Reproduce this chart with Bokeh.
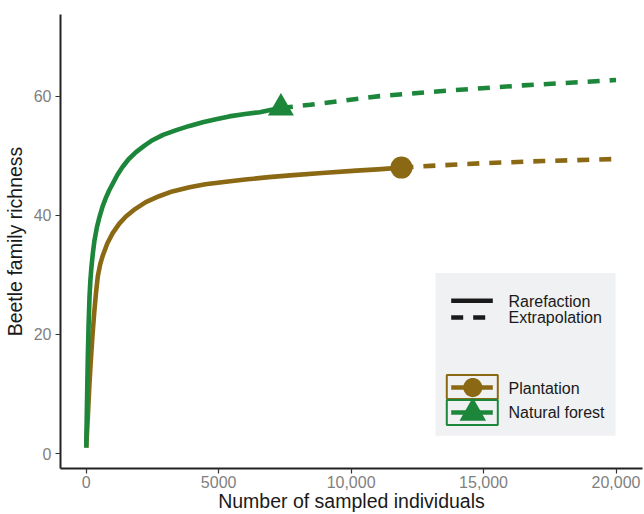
from bokeh.plotting import figure
from bokeh.models import Range1d, FixedTicker, BoxAnnotation, Label, PolyAnnotation
from bokeh.embed import file_html
from bokeh.resources import INLINE
import math

# ---------------- data ----------------
plant_rare_x = [1, 60, 120, 180, 240, 300, 370, 440, 530, 630, 800, 1000, 1250, 1500, 1800,
                2250, 2750, 3250, 3900, 4500, 5200, 6000, 6900, 7700, 8900, 10200, 11000, 11900]
plant_rare_y = [1, 6, 11.5, 16, 20, 23.5, 27, 29.8, 31.8, 33.3, 35.3, 37.0, 38.6, 39.8, 40.9,
                42.2, 43.2, 44.0, 44.7, 45.2, 45.6, 46.0, 46.4, 46.7, 47.1, 47.5, 47.7, 48.0]
plant_extra_x = [11900, 13000, 15000, 17250, 20000]
plant_extra_y = [48.0, 48.3, 48.75, 49.1, 49.45]

forest_rare_x = [1, 30, 60, 90, 125, 160, 200, 250, 310, 400, 500, 620, 750, 870, 1000, 1180,
                 1370, 1600, 1880, 2200, 2500, 2900, 3400, 3900, 4400, 4900, 5400, 6000, 6550,
                 7000, 7350]
forest_rare_y = [1, 8.5, 16, 21.5, 26.3, 29.2, 31.4, 33.6, 35.7, 37.9, 39.7, 41.5, 43.0, 44.2,
                 45.3, 46.8, 48.1, 49.4, 50.6, 51.7, 52.6, 53.5, 54.3, 55.0, 55.6, 56.1, 56.6,
                 57.0, 57.3, 57.7, 58.0]
forest_extra_x = [7350, 8450, 11080, 13720, 16490, 20000]
forest_extra_y = [58.0, 58.55, 60.0, 60.95, 61.8, 62.7]

plant_obs_x = [11900]
plant_obs_y = [48.0]
forest_obs_x = [7350]
forest_obs_y = [58.0]

x_ticks = [0, 5000, 10000, 15000, 20000]
x_tick_labels = ["0", "5000", "10,000", "15,000", "20,000"]
y_ticks = [0, 20, 40, 60]

series_names = ["Plantation", "Natural forest"]
method_names = ["Rarefaction", "Extrapolation"]

# ---------------- styles ----------------
BROWN = "#8B6914"
GREEN = "#1C863A"
FONT = "Liberation Sans"
LW = 4.6
DASH = "12 10"

p = figure(width=644, height=514,
           x_range=Range1d(-970, 21000), y_range=Range1d(-2.5, 73.7),
           output_backend="svg", toolbar_location=None,
           min_border_left=0, min_border_right=2, min_border_top=14, min_border_bottom=0)

p.background_fill_color = "white"
p.border_fill_color = "white"
p.outline_line_color = None
p.xgrid.visible = False
p.ygrid.visible = False

# lines
p.line(plant_rare_x, plant_rare_y, line_color=BROWN, line_width=LW, line_join="round")
p.line(plant_extra_x, plant_extra_y, line_color=BROWN, line_width=LW, line_dash=DASH)
p.line(forest_rare_x, forest_rare_y, line_color=GREEN, line_width=LW, line_join="round")
p.line(forest_extra_x, forest_extra_y, line_color=GREEN, line_width=LW, line_dash=DASH)
# observed points
p.scatter(plant_obs_x, plant_obs_y, marker="circle", size=22, fill_color=BROWN, line_color=None)
p.scatter(forest_obs_x, forest_obs_y, marker="triangle", size=26, fill_color=GREEN, line_color=None)

# axes
p.xaxis.ticker = FixedTicker(ticks=x_ticks)
p.xaxis.major_label_overrides = {t: l for t, l in zip(x_ticks, x_tick_labels)}
p.yaxis.ticker = FixedTicker(ticks=y_ticks)
for ax in (p.xaxis[0], p.yaxis[0]):
    ax.axis_line_color = "#222222"
    ax.axis_line_width = 2
    ax.major_tick_line_color = "#333333"
    ax.major_tick_line_width = 1.2
    ax.major_tick_out = 5
    ax.major_tick_in = 0
    ax.minor_tick_line_color = None
    ax.major_label_text_font = FONT
    ax.major_label_text_font_size = "16px"
    ax.major_label_text_color = "#7F7F7F"
    ax.axis_label_text_font = FONT
    ax.axis_label_text_font_size = "19.5px"
    ax.axis_label_text_font_style = "normal"
    ax.axis_label_text_color = "#1A1A1A"
p.xaxis.axis_label = "Number of sampled individuals"
p.yaxis.axis_label = "Beetle family richness"
p.xaxis.major_label_standoff = 2
p.xaxis.axis_label_standoff = -1
p.yaxis.major_label_standoff = 4
p.yaxis.axis_label_standoff = 5

# ---------------- legend (frame-relative screen units) ----------------
S = dict(left_units="screen", right_units="screen", top_units="screen", bottom_units="screen")
p.add_layout(BoxAnnotation(left=375, right=555, bottom=32.7, top=195.4,
                           fill_color="#F0F1F3", fill_alpha=1, line_color=None, **S))
# linetype keys
p.add_layout(BoxAnnotation(left=390.7, right=432.3, bottom=165.5, top=169.9,
                           fill_color="#1A1A1A", fill_alpha=1, line_color=None, **S))
for l, r in [(390.7, 402.7), (412.7, 424.7)]:
    p.add_layout(BoxAnnotation(left=l, right=r, bottom=148.75, top=153.25,
                               fill_color="#1A1A1A", fill_alpha=1, line_color=None, **S))
for txt, yy in zip(method_names, [166.7, 151.0]):
    p.add_layout(Label(x=448, y=yy, x_units="screen", y_units="screen", text=txt,
                       text_font=FONT, text_font_size="16px", text_color="#1A1A1A",
                       text_baseline="middle", text_align="left"))

# colour keys
def key(color, box_top, box_bottom, cy, marker):
    p.add_layout(BoxAnnotation(left=386.3, right=437.3, bottom=box_bottom, top=box_top,
                               fill_alpha=0, line_color=color, line_alpha=1, line_width=2, **S))
    p.add_layout(BoxAnnotation(left=390.7, right=432.3, bottom=cy - 2.25, top=cy + 2.25,
                               fill_color=color, fill_alpha=1, line_color=None, **S))
    cx = 412.3
    if marker == "circle":
        xs = [cx + 9.5 * math.cos(2 * math.pi * k / 40) for k in range(40)]
        ys = [cy + 9.5 * math.sin(2 * math.pi * k / 40) for k in range(40)]
    else:
        xs = [cx - 13.3, cx + 13.3, cx]
        ys = [cy - 8.3, cy - 8.3, cy + 15.0]
    p.add_layout(PolyAnnotation(xs=xs, ys=ys, xs_units="screen", ys_units="screen",
                                fill_color=color, fill_alpha=1, line_color=None))

key(BROWN, 93.4, 69.4, 81.0, "circle")
key(GREEN, 68.4, 43.4, 56.0, "triangle")
for txt, yy in zip(series_names, [80.0, 56.0]):
    p.add_layout(Label(x=448, y=yy, x_units="screen", y_units="screen", text=txt,
                       text_font=FONT, text_font_size="16px", text_color="#1A1A1A",
                       text_baseline="middle", text_align="left"))

open("out.html", "w").write(file_html(p, INLINE))
